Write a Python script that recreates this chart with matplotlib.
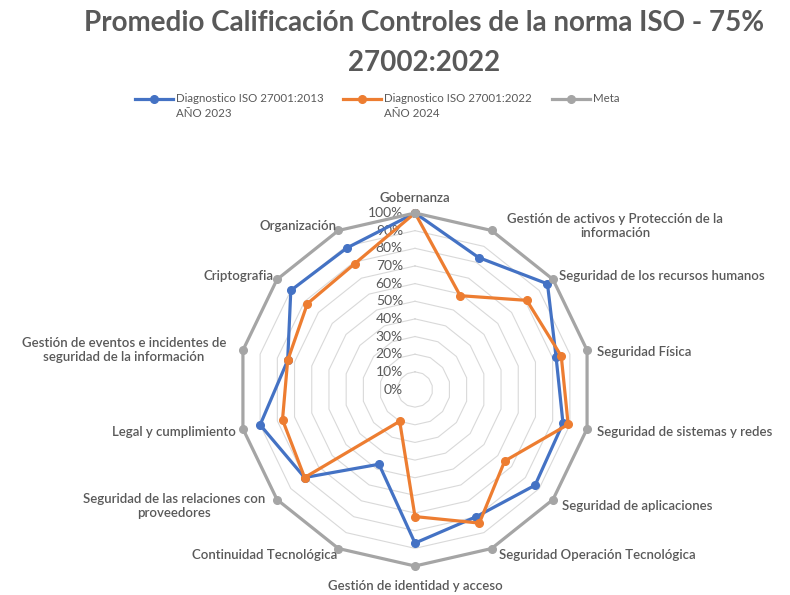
import numpy as np
import matplotlib
matplotlib.use("Agg")
import matplotlib.pyplot as plt
from matplotlib.transforms import ScaledTranslation

plt.rcParams['font.family'] = ['Lato', 'DejaVu Sans']

categories = [
    "Gobernanza",
    "Gestión de activos y Protección de la\ninformación",
    "Seguridad de los recursos humanos",
    "Seguridad Física",
    "Seguridad de sistemas y redes",
    "Seguridad de aplicaciones",
    "Seguridad Operación Tecnológica",
    "Gestión de identidad y acceso",
    "Continuidad Tecnológica",
    "Seguridad de las relaciones con\nproveedores",
    "Legal y cumplimiento",
    "Gestión de eventos e incidentes de\nseguridad de la información",
    "Criptografia",
    "Organización",
]
diag_2023 = [1.00, 0.83, 0.96, 0.82, 0.86, 0.87, 0.80, 0.87, 0.47, 0.80, 0.90, 0.74, 0.90, 0.89]
diag_2024 = [1.00, 0.59, 0.81, 0.85, 0.89, 0.65, 0.84, 0.72, 0.20, 0.80, 0.77, 0.74, 0.78, 0.79]
meta = [1.0] * 14
series_names = ["Diagnostico ISO 27001:2013\nAÑO 2023", "Diagnostico ISO 27001:2022\nAÑO 2024", "Meta\n"]
series_colors = ["#4472C4", "#ED7D31", "#A5A5A5"]
tick_values = [0.0, 0.1, 0.2, 0.3, 0.4, 0.5, 0.6, 0.7, 0.8, 0.9, 1.0]
tick_labels = ["0%", "10%", "20%", "30%", "40%", "50%", "60%", "70%", "80%", "90%", "100%"]
title = "Promedio Calificación Controles de la norma ISO - 75%\n27002:2022"

# label layout (pixel anchor, ha)
label_pos = [
    (415, 198, 'center'), (615, 226, 'center'), (559, 276, 'left'), (597, 352, 'left'),
    (597, 432, 'left'), (562, 506, 'left'), (499, 555, 'left'), (415, 586, 'center'),
    (337, 555, 'right'), (174, 506, 'center'), (236, 432, 'right'), (124, 350, 'center'),
    (273, 276, 'right'), (337, 226, 'right'),
]

W, H = 790, 595
fig = plt.figure(figsize=(W / 100, H / 100), dpi=100)
cx, cy, R = 415, 389.5, 176.5
ax = fig.add_axes([(cx - R) / W, (H - cy - R) / H, 2 * R / W, 2 * R / H], projection='polar')
ax.set_theta_zero_location('N')
ax.set_theta_direction(-1)
ax.set_ylim(0, 1.0)
ax.grid(False)
ax.spines['polar'].set_visible(False)
ax.set_xticks([])
ax.set_yticks([])
ax.patch.set_alpha(0)

n = len(categories)
theta = np.linspace(0, 2 * np.pi, n, endpoint=False)
theta_c = np.append(theta, theta[0])

# polygon gridlines
for tv in tick_values[1:]:
    ax.plot(theta_c, [tv] * (n + 1), color="#D9D9D9", lw=0.8, zorder=1, clip_on=False)

for k, (vals, name, col) in enumerate([(diag_2023, series_names[0], series_colors[0]),
                                       (diag_2024, series_names[1], series_colors[1]),
                                       (meta, series_names[2], series_colors[2])]):
    v = np.append(vals, vals[0])
    ax.plot(theta_c, v, color=col, lw=2.3, marker='o', markersize=5.5, label=name,
            zorder=3 + k, clip_on=False)

off = ScaledTranslation(-12 / 100, 0, fig.dpi_scale_trans)
for tv, tl in zip(tick_values, tick_labels):
    ax.text(0, tv, tl, ha='right', va='center', fontsize=10, color="#595959",
            transform=ax.transData + off, zorder=2)

for cat, (px, py, ha) in zip(categories, label_pos):
    fig.text(px / W, 1 - py / H, cat, ha=ha, va='center', fontsize=9.5, color="#595959",
             multialignment='center', linespacing=1.25, fontweight='semibold')

fig.text(424 / W, 1 - 43 / H, title, ha='center', va='center', fontsize=20,
         fontweight='bold', color="#595959", linespacing=1.7)

handles, labels = ax.get_legend_handles_labels()
leg = fig.legend(handles, labels, ncol=3,
                 loc='center', bbox_to_anchor=(377 / W, 1 - 106 / H), frameon=False,
                 fontsize=8.3, handlelength=3.3, columnspacing=1.7, handletextpad=0.26,
                 labelspacing=0.5)
for t in leg.get_texts():
    t.set_color("#595959")
    t.set_linespacing(1.35)
shift = ScaledTranslation(0, 7.5 / 100, fig.dpi_scale_trans)
for h in leg.legend_handles:
    h.set_transform(h.get_transform() + shift)

fig.savefig("out.png", dpi=100, facecolor='white')
